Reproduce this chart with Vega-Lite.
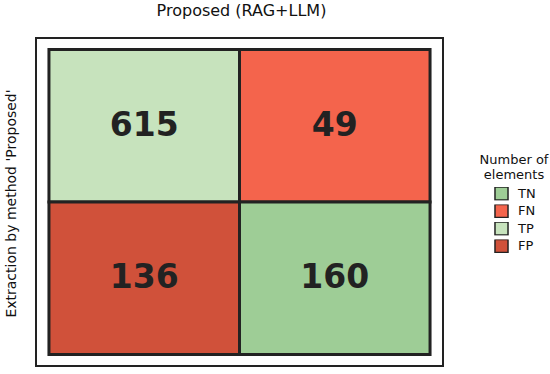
{
  "$schema": "https://vega.github.io/schema/vega-lite/v6.json",
  "width": 407,
  "height": 328,
  "autosize": {"type": "none"},
  "padding": {"left": 36, "top": 38, "right": 107, "bottom": 8},
  "config": {
    "font": "DejaVu Sans",
    "view": {"stroke": "#222", "strokeWidth": 2},
    "title": {"fontSize": 16, "fontWeight": "normal", "color": "#111"}
  },
  "title": {"text": "Proposed (RAG+LLM)", "anchor": "middle", "dx": 2, "offset": 19},
  "data": {
    "values": [
      {"col": "A", "row": "A", "label": "TP", "value": 615},
      {"col": "B", "row": "A", "label": "FN", "value": 49},
      {"col": "A", "row": "B", "label": "FP", "value": 136},
      {"col": "B", "row": "B", "label": "TN", "value": 160}
    ]
  },
  "encoding": {
    "x": {"field": "col", "type": "nominal", "scale": {"paddingInner": 0, "paddingOuter": 0.068}, "axis": null},
    "y": {
      "field": "row", "type": "nominal",
      "scale": {"paddingInner": 0, "paddingOuter": 0.0754},
      "axis": {
        "title": "Extraction by method 'Proposed'",
        "labels": false, "ticks": false, "domain": false,
        "titleFontSize": 14, "titleFontWeight": "normal", "titleColor": "#111",
        "titleX": -21, "titleY": 165, "titleBaseline": "alphabetic", "titleAlign": "center", "titleAngle": -90
      }
    }
  },
  "layer": [
    {
      "mark": {"type": "rect", "stroke": "#222", "strokeWidth": 3},
      "encoding": {
        "color": {
          "field": "label", "type": "nominal",
          "scale": {"domain": ["TN", "FN", "TP", "FP"], "range": ["#9ecd96", "#f4644c", "#c7e3bd", "#d0513a"]},
          "legend": {
            "title": ["Number of", "elements"],
            "orient": "none", "legendX": 444, "legendY": 116,
            "titleFontSize": 13, "titleFontWeight": "normal", "titleColor": "#111",
            "titleAnchor": "middle", "titleAlign": "center", "titleLineHeight": 15,
            "labelFontSize": 13, "labelColor": "#111",
            "symbolType": "square", "symbolSize": 170, "symbolStrokeColor": "#222", "symbolStrokeWidth": 1.5,
            "symbolOffset": 2, "rowPadding": 3.5, "clipHeight": 13, "labelOffset": 9
          }
        }
      }
    },
    {
      "mark": {"type": "text", "fontSize": 33, "fontWeight": "bold", "color": "#222"},
      "encoding": {"text": {"field": "value", "type": "quantitative"}}
    }
  ]
}
